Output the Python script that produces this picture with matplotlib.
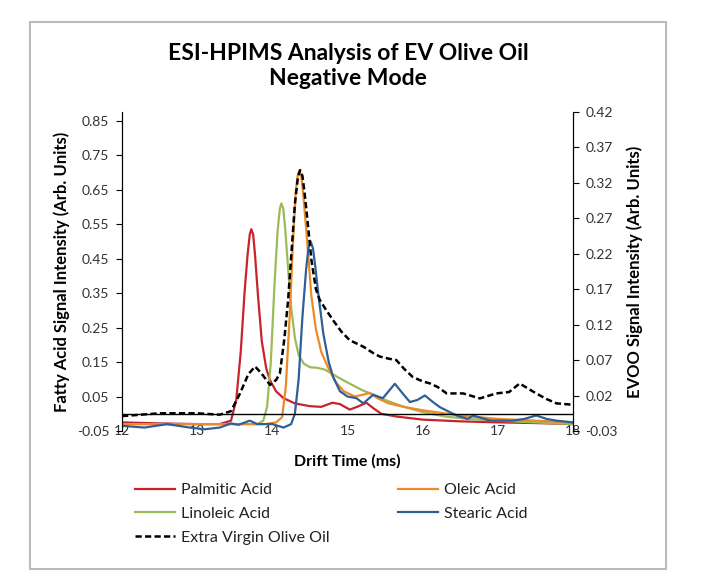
import matplotlib.pyplot as plt
from matplotlib.patches import Rectangle

# drift time (ms) and signal values
palmitic_x = [12, 12.5, 13.0, 13.3, 13.45, 13.52, 13.58, 13.63, 13.67, 13.70, 13.72, 13.745, 13.77, 13.81,
              13.86, 13.92, 13.97, 14.05, 14.15, 14.3, 14.5, 14.65, 14.8, 14.9, 15.03, 15.15, 15.25, 15.35,
              15.45, 15.65, 16.0, 16.5, 17.0, 17.5, 18.0]
palmitic_y = [-0.025, -0.028, -0.03, -0.03, -0.02, 0.04, 0.18, 0.35, 0.46, 0.52, 0.535, 0.52, 0.46, 0.34,
              0.21, 0.13, 0.097, 0.065, 0.045, 0.03, 0.022, 0.02, 0.032, 0.028, 0.012, 0.022, 0.032, 0.015,
              0.0, -0.008, -0.017, -0.022, -0.025, -0.027, -0.03]

linoleic_x = [12, 13, 13.8, 13.88, 13.93, 13.98, 14.03, 14.07, 14.10, 14.12, 14.145, 14.17, 14.21, 14.25,
              14.3, 14.35, 14.42, 14.5, 14.6, 14.7, 14.8, 14.92, 15.05, 15.2, 15.35, 15.5, 15.75, 16.0, 16.3,
              16.6, 17.0, 17.5, 18.0]
linoleic_y = [-0.03, -0.03, -0.03, -0.02, 0.02, 0.15, 0.38, 0.53, 0.595, 0.61, 0.595, 0.54, 0.42, 0.31,
              0.22, 0.17, 0.145, 0.135, 0.133, 0.128, 0.115, 0.1, 0.085, 0.068, 0.055, 0.04, 0.02, 0.005,
              -0.008, -0.015, -0.02, -0.025, -0.03]

oleic_x = [12, 13, 13.9, 14.05, 14.13, 14.18, 14.23, 14.28, 14.31, 14.34, 14.36, 14.385, 14.41, 14.46, 14.52,
           14.58, 14.65, 14.75, 14.85, 14.95, 15.1, 15.2, 15.3, 15.4, 15.55, 15.75, 16.0, 16.5, 17.0, 17.5,
           18.0]
oleic_y = [-0.03, -0.03, -0.03, -0.025, -0.01, 0.08, 0.28, 0.52, 0.64, 0.695, 0.705, 0.69, 0.64, 0.51, 0.34,
           0.245, 0.18, 0.13, 0.09, 0.065, 0.05, 0.055, 0.06, 0.045, 0.03, 0.02, 0.01, -0.005, -0.015, -0.02,
           -0.025]

stearic_x = [12, 12.3, 12.6, 12.9, 13.1, 13.3, 13.45, 13.55, 13.7, 13.8, 14.0, 14.15, 14.25, 14.3, 14.35,
             14.4, 14.45, 14.48, 14.51, 14.54, 14.57, 14.61, 14.68, 14.75, 14.81, 14.9, 15.0, 15.12, 15.21,
             15.34, 15.47, 15.63, 15.73, 15.83, 15.93, 16.03, 16.13, 16.23, 16.45, 16.6, 16.67, 16.9, 17.2,
             17.35, 17.51, 17.65, 17.78, 18.0]
stearic_y = [-0.035, -0.04, -0.03, -0.04, -0.045, -0.04, -0.028, -0.032, -0.02, -0.03, -0.03, -0.04, -0.03,
             0.0, 0.1, 0.28, 0.42, 0.48, 0.50, 0.48, 0.43, 0.35, 0.23, 0.15, 0.106, 0.065, 0.05, 0.045, 0.03,
             0.055, 0.045, 0.087, 0.06, 0.034, 0.04, 0.053, 0.035, 0.019, -0.005, -0.015, -0.005, -0.02,
             -0.02, -0.015, -0.005, -0.015, -0.02, -0.025]

# EVOO is plotted on the right axis
evoo_x = [12, 12.5, 13.0, 13.3, 13.45, 13.57, 13.68, 13.77, 13.85, 13.97, 14.05, 14.1, 14.16, 14.21, 14.26,
          14.3, 14.34, 14.37, 14.40, 14.43, 14.46, 14.52, 14.58, 14.63, 14.72, 14.81, 14.92, 15.03, 15.21,
          15.34, 15.43, 15.55, 15.65, 15.75, 15.87, 16.0, 16.1, 16.2, 16.32, 16.54, 16.76, 16.98, 17.15,
          17.29, 17.4, 17.51, 17.65, 17.78, 18.0]
evoo_y = [-0.009, -0.005, -0.005, -0.007, -0.002, 0.023, 0.05, 0.061, 0.052, 0.035, 0.042, 0.051, 0.1, 0.155,
          0.23, 0.29, 0.328, 0.338, 0.33, 0.305, 0.275, 0.211, 0.17, 0.155, 0.14, 0.126, 0.11, 0.098, 0.089,
          0.08, 0.075, 0.072, 0.07, 0.058, 0.046, 0.04, 0.037, 0.032, 0.023, 0.023, 0.016, 0.023, 0.025,
          0.037, 0.03, 0.023, 0.015, 0.009, 0.007]

x_ticks = [12, 13, 14, 15, 16, 17, 18]
left_ticks = [-0.05, 0.05, 0.15, 0.25, 0.35, 0.45, 0.55, 0.65, 0.75, 0.85]
right_ticks = [-0.03, 0.02, 0.07, 0.12, 0.17, 0.22, 0.27, 0.32, 0.37, 0.42]

plt.rcParams['font.family'] = ['Lato', 'DejaVu Sans']

fig = plt.figure(figsize=(7.08, 5.73), dpi=100)
ax = fig.add_axes([122 / 708, 1 - 431 / 573, (573 - 122) / 708, (431 - 112) / 573])
ax2 = ax.twinx()

# light grey frame round the chart
fig.patches.append(Rectangle((30 / 708, 1 - 569 / 573), 636 / 708, 547 / 573, transform=fig.transFigure,
                             fill=False, edgecolor='#bbbbbb', lw=1.5))

lw = 1.6
l1, = ax.plot(palmitic_x, palmitic_y, color='#c8232c', lw=lw, label='Palmitic Acid')
l2, = ax.plot(linoleic_x, linoleic_y, color='#9bbb59', lw=lw, label='Linoleic Acid')
l4, = ax.plot(oleic_x, oleic_y, color='#ec8a2a', lw=lw, label='Oleic Acid')
l5, = ax.plot(stearic_x, stearic_y, color='#2f5f98', lw=lw, label='Stearic Acid')
l3, = ax2.plot(evoo_x, evoo_y, color='black', lw=1.8, ls=(0, (2.5, 1.3)), label='Extra Virgin Olive Oil')
ax.axhline(0, color='black', lw=1)

ax.set_xlim(12, 18)
ax.set_ylim(-0.05, 0.875)
ax2.set_ylim(-0.03, 0.42)
ax.set_xticks(x_ticks)
ax.set_yticks(left_ticks)
ax2.set_yticks(right_ticks)
ax.set_yticklabels(['%.2f' % v for v in left_ticks])
ax2.set_yticklabels(['%.2f' % v for v in right_ticks])

for a in (ax, ax2):
    a.spines['top'].set_visible(False)
    a.spines['bottom'].set_visible(False)
ax.tick_params(axis='x', length=0, labelsize=10, colors='#333333', pad=-4)
ax.tick_params(axis='y', length=4, labelsize=10, colors='#333333', pad=5)
ax2.tick_params(axis='y', length=4, labelsize=10, colors='#333333', pad=5)
for a in (ax, ax2):
    a.tick_params(axis='y', color='black')

ax.set_xlabel('Drift Time (ms)', fontsize=11.5, fontweight='bold', labelpad=12)
ax.set_ylabel('Fatty Acid Signal Intensity (Arb. Units)', fontsize=12, fontweight='bold', labelpad=5)
ax2.set_ylabel('EVOO Signal Intensity (Arb. Units)', fontsize=12, fontweight='bold', labelpad=6)

fig.text(348 / 708, 1 - 66 / 573, 'ESI-HPIMS Analysis of EV Olive Oil\nNegative Mode', ha='center', va='center',
         fontsize=16.5, fontweight='bold', linespacing=1.2)

# legend in two blocks like the original layout
leg_kw = dict(frameon=False, fontsize=11.5, handlelength=2.5, handletextpad=0.4, labelspacing=0.6,
              borderpad=0, borderaxespad=0, labelcolor='#222222')
fig.legend([l1, l2, l3], ['Palmitic Acid', 'Linoleic Acid', 'Extra Virgin Olive Oil'],
           loc='upper left', bbox_to_anchor=(135 / 708, 1 - 483 / 573), **leg_kw)
fig.legend([l4, l5], ['Oleic Acid', 'Stearic Acid'],
           loc='upper left', bbox_to_anchor=(398 / 708, 1 - 483 / 573), **leg_kw)

fig.savefig('out.png', dpi=100)
